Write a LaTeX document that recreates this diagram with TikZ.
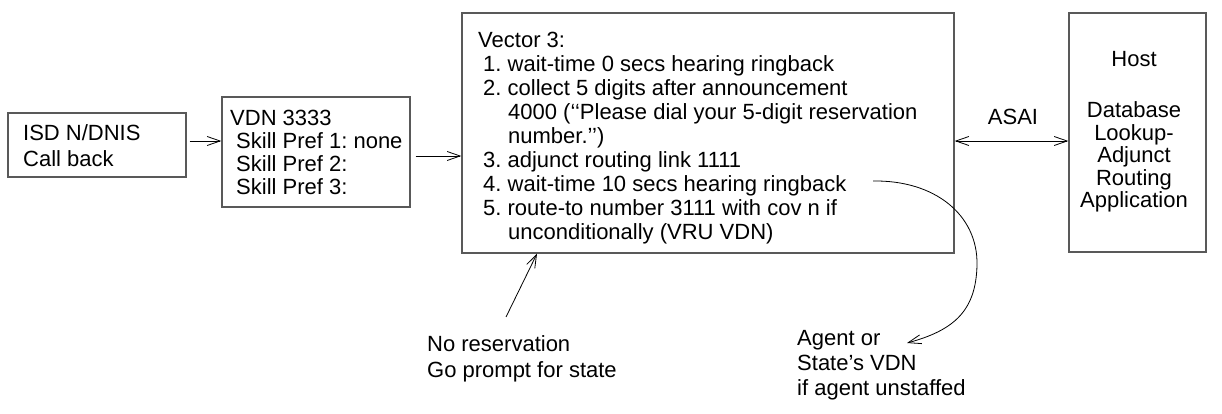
\documentclass[tikz,border=0pt]{standalone}
\usepackage{fontspec}
\setmainfont{Liberation Sans}
\usetikzlibrary{arrows.meta}
\frenchspacing
\tikzset{
  box/.style={draw=black!65, line width=1.3pt, inner sep=0pt, fill=none},
  txt/.style={inner sep=0pt, anchor=base west},
  conn/.style={draw=black, line width=0.8pt},
  arr/.style={conn, -{Straight Barb[length=13pt,width=9pt]}},
  darr/.style={conn, {Straight Barb[length=13pt,width=9pt]}-{Straight Barb[length=13pt,width=9pt]}}
}
\begin{document}
\begin{tikzpicture}[x=1pt,y=-1pt,font=\fontsize{22}{24}\selectfont\frenchspacing]
\useasboundingbox (0,0) rectangle (1222,414);
% boxes
\node[box, minimum width=178pt, minimum height=64pt] (b1) at (97,145) {};
\node[box, minimum width=188pt, minimum height=110pt] (b2) at (316,152) {};
\node[box, minimum width=492pt, minimum height=240pt] (b3) at (708,133) {};
\node[box, minimum width=137pt, minimum height=239pt] (b4) at (1137.5,132.5) {};
% texts
\node[txt] (t1) at (23,141) {\fontsize{22}{26}\selectfont\begin{tabular}[t]{@{}l@{}}ISD N/DNIS\\Call back\end{tabular}};
\node[txt] (t2) at (230,126) {\fontsize{22}{23}\selectfont\begin{tabular}[t]{@{}l@{}}VDN 3333\\\hspace*{6pt}Skill Pref 1: none\\\hspace*{6pt}Skill Pref 2:\\\hspace*{6pt}Skill Pref 3:\end{tabular}};
\node[txt] (t3) at (478,48) {\begin{tabular}[t]{@{}l@{}}Vector 3:\\
\hspace*{5pt}1. wait-time 0 secs hearing ringback\\
\hspace*{5pt}2. collect 5 digits after announcement\\
\hspace*{30pt}4000 (‘‘Please dial your 5-digit reservation\\
\hspace*{30pt}number.’’)\\
\hspace*{5pt}3. adjunct routing link 1111\\
\hspace*{5pt}4. wait-time 10 secs hearing ringback\\
\hspace*{5pt}5. route-to number 3111 with cov n if\\
\hspace*{30pt}unconditionally (VRU VDN)\end{tabular}};
\node[inner sep=0pt, anchor=base] (t4) at (1134,67) {\fontsize{22}{22}\selectfont\begin{tabular}[t]{@{}c@{}}Host\\[28pt]Database\\Lookup-\\Adjunct\\Routing\\Application\end{tabular}};
\node[inner sep=0pt, anchor=base] (asai) at (1013,125) {ASAI};
\node[txt] (nores) at (427,351) {\fontsize{22}{26}\selectfont\begin{tabular}[t]{@{}l@{}}No reservation\\Go prompt for state\end{tabular}};
\node[txt] (agent) at (797,345) {\fontsize{22}{25}\selectfont\begin{tabular}[t]{@{}l@{}}Agent or\\State’s VDN\\if agent unstaffed\end{tabular}};
% connectors
\draw[arr, shorten <=3pt] (b1.east |- 0,141) -- (b2.west |- 0,141);
\draw[arr, shorten <=5pt] (b2.east |- 0,156) -- (b3.west |- 0,156);
\draw[darr] (b3.east |- 0,141) -- (b4.west |- 0,141);
\coordinate (nstart) at (506,317);
\draw[arr] (nstart) -- (b3.south -| 537,0);
\coordinate (cstart) at (873,181);
\coordinate (cend) at (907,343);
\draw[arr] (cstart) .. controls (935,180) and (978,215) .. (977,265) .. controls (976,310) and (955,330) .. (cend);
\end{tikzpicture}
\end{document}
